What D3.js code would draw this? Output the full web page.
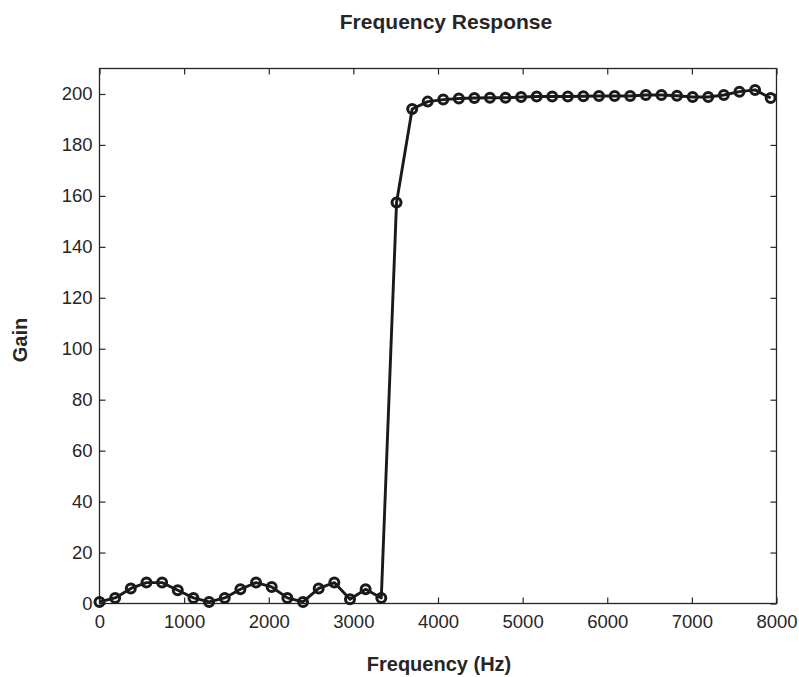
<!DOCTYPE html>
<html>
<script src="https://d3js.org/d3.v7.min.js"></script>
<style>
    body { margin: 0; background: white; }
    svg { display: block; font-family: "Liberation Sans", Arial, sans-serif; }
    .axis text { font-size: 18.5px; fill: #262626; }
    .axis line { stroke: #262626; stroke-width: 1.2; }
    .lbl { font-weight: bold; font-size: 20px; fill: #262626; }
</style>

<body>
    <svg width="799" height="677"></svg>
    <script>
        // sample frequencies (Hz) and measured gain
        const freqs = [0, 185, 370, 555, 740, 925, 1110, 1295, 1480, 1665, 1850, 2035, 2220, 2405, 2590,
            2775, 2960, 3145, 3330, 3510, 3695, 3878, 4062, 4246, 4430, 4614, 4798, 4982, 5166, 5350,
            5534, 5718, 5902, 6087, 6271, 6456, 6640, 6824, 7009, 7193, 7378, 7562, 7747, 7931];
        const gains = [0.6, 2.2, 5.9, 8.2, 8.2, 5.2, 2.2, 0.6, 2.2, 5.6, 8.2, 6.5, 2.2, 0.6, 5.9,
            8.2, 1.7, 5.6, 2.2, 157.4, 194.1, 197, 197.8, 198.2, 198.4, 198.5, 198.5, 198.8, 199, 199,
            199, 199.1, 199.2, 199.2, 199.2, 199.6, 199.6, 199.3, 198.8, 198.8, 199.6, 200.9, 201.6, 198.4];
        const xTicks = [0, 1000, 2000, 3000, 4000, 5000, 6000, 7000, 8000];
        const yTicks = [0, 20, 40, 60, 80, 100, 120, 140, 160, 180, 200];

        const svg = d3.select('svg');
        const plotL = 99.5, plotR = 776.5, plotT = 68.5, plotB = 603.5;

        const x = d3.scaleLinear().domain([0, 8000]).range([plotL, plotR]);
        const y = d3.scaleLinear().domain([0, 210]).range([plotB, plotT]);

        // box
        svg.append('rect')
            .attr('x', plotL).attr('y', plotT)
            .attr('width', plotR - plotL).attr('height', plotB - plotT)
            .attr('fill', 'none').attr('stroke', '#262626').attr('stroke-width', 1.3);

        svg.append('g').attr('class', 'axis').attr('transform', `translate(0,${plotB})`)
            .call(d3.axisBottom(x).tickValues(xTicks).tickFormat(d3.format('d'))
                .tickSizeInner(-6).tickSizeOuter(0).tickPadding(11.5))
            .call(g => g.select('.domain').remove());

        svg.append('g').attr('class', 'axis').attr('transform', `translate(0,${plotT})`)
            .call(d3.axisTop(x).tickValues(xTicks).tickFormat('')
                .tickSizeInner(-6).tickSizeOuter(0))
            .call(g => g.select('.domain').remove());

        svg.append('g').attr('class', 'axis').attr('transform', `translate(${plotL},0)`)
            .call(d3.axisLeft(y).tickValues(yTicks).tickFormat(d3.format('d'))
                .tickSizeInner(-6).tickSizeOuter(0).tickPadding(7))
            .call(g => g.select('.domain').remove());

        svg.append('g').attr('class', 'axis').attr('transform', `translate(${plotR},0)`)
            .call(d3.axisRight(y).tickValues(yTicks).tickFormat('')
                .tickSizeInner(-6).tickSizeOuter(0))
            .call(g => g.select('.domain').remove());

        svg.selectAll('.axis .tick text').attr('fill', '#262626');

        const pts = freqs.map((f, i) => ({ f: f, g: gains[i] }));

        svg.append('path')
            .datum(pts)
            .attr('fill', 'none')
            .attr('stroke', '#1a1a1a')
            .attr('stroke-width', 2.9)
            .attr('stroke-linejoin', 'round')
            .attr('d', d3.line().x(d => x(d.f)).y(d => y(d.g)));

        svg.append('g').selectAll('circle')
            .data(pts)
            .enter()
            .append('circle')
            .attr('cx', d => x(d.f))
            .attr('cy', d => y(d.g))
            .attr('r', 4.5)
            .attr('fill', 'none')
            .attr('stroke', '#1a1a1a')
            .attr('stroke-width', 3);

        svg.append('text')
            .attr('class', 'lbl')
            .attr('text-anchor', 'middle')
            .attr('x', 446)
            .attr('y', 29)
            .style('font-size', '21px')
            .text('Frequency Response');

        svg.append('text')
            .attr('class', 'lbl')
            .attr('text-anchor', 'middle')
            .attr('x', 439)
            .attr('y', 671)
            .text('Frequency (Hz)');

        svg.append('text')
            .attr('class', 'lbl')
            .attr('text-anchor', 'middle')
            .attr('transform', 'translate(27,340) rotate(-90)')
            .text('Gain');
    </script>
</body>

</html>
